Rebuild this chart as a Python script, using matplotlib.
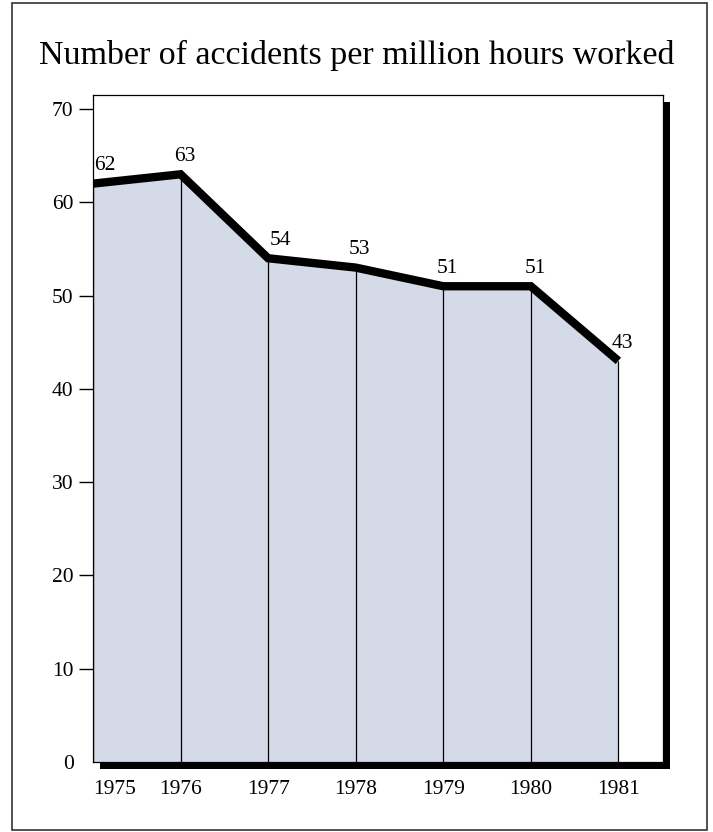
import matplotlib.pyplot as plt
from matplotlib.patches import Rectangle

years = [1975, 1976, 1977, 1978, 1979, 1980, 1981]
accidents = [62, 63, 54, 53, 51, 51, 43]
y_ticks = [0, 10, 20, 30, 40, 50, 60, 70]
title = "Number of accidents per million hours worked"

W, H = 713, 832
fill_color = "#d4dae7"

plt.rcParams["font.family"] = ["Liberation Serif", "DejaVu Serif"]

fig = plt.figure(figsize=(W / 100, H / 100), dpi=100)

# axes box in pixels (left, top, right, bottom)
bx0, by0, bx1, by1 = 93, 95, 663, 762
ax = fig.add_axes([bx0 / W, 1 - by1 / H, (bx1 - bx0) / W, (by1 - by0) / H])
ax.set_facecolor("white")
ax.set_zorder(2)

# drop shadow behind the plot box
sh = 7
fig.patches.append(Rectangle(((bx0 + sh) / W, 1 - (by1 + sh) / H),
                             (bx1 - bx0) / W, (by1 - by0) / H,
                             transform=fig.transFigure, facecolor="black",
                             edgecolor="none", zorder=1))

# outer frame
fig.patches.append(Rectangle((12 / W, 1 - 830 / H), 695 / W, 827 / H,
                             transform=fig.transFigure, facecolor="none",
                             edgecolor="#333333", linewidth=1.2, zorder=0))

ax.fill_between(years, accidents, 0, color=fill_color, zorder=1, linewidth=0)
ax.vlines(years, 0, accidents, color="black", linewidth=0.9, zorder=2)
ax.plot(years, accidents, color="black", linewidth=6,
        solid_joinstyle="miter", solid_capstyle="butt", zorder=3)

for i, (x, v) in enumerate(zip(years, accidents)):
    ha = "left" if i in (0, 2) else "center"
    dx = 1 if ha == "left" else 3
    ax.annotate(str(v), (x, v), xytext=(dx, 6), textcoords="offset points",
                ha=ha, va="bottom", fontsize=15.5, zorder=4)

ax.set_xlim(1975, 1981.51)
ax.set_ylim(0, 71.5)
ax.set_yticks(y_ticks)
ax.set_yticklabels([str(t) for t in y_ticks])
ax.set_xticks(years)
ax.set_xticklabels([str(y) for y in years])

ax.tick_params(axis="y", direction="out", length=10, width=1, pad=4,
               labelsize=15.5)
ax.tick_params(axis="x", length=0, pad=13, labelsize=15.5)
ax.yaxis.get_major_ticks()[0].tick1line.set_visible(False)
ax.get_xticklabels()[0].set_horizontalalignment("left")

for s in ax.spines.values():
    s.set_linewidth(0.9)
    s.set_color("black")

fig.text(0.5, 1 - 55 / H, title, ha="center", va="center", fontsize=24.5)

fig.savefig("out.png", dpi=100)
